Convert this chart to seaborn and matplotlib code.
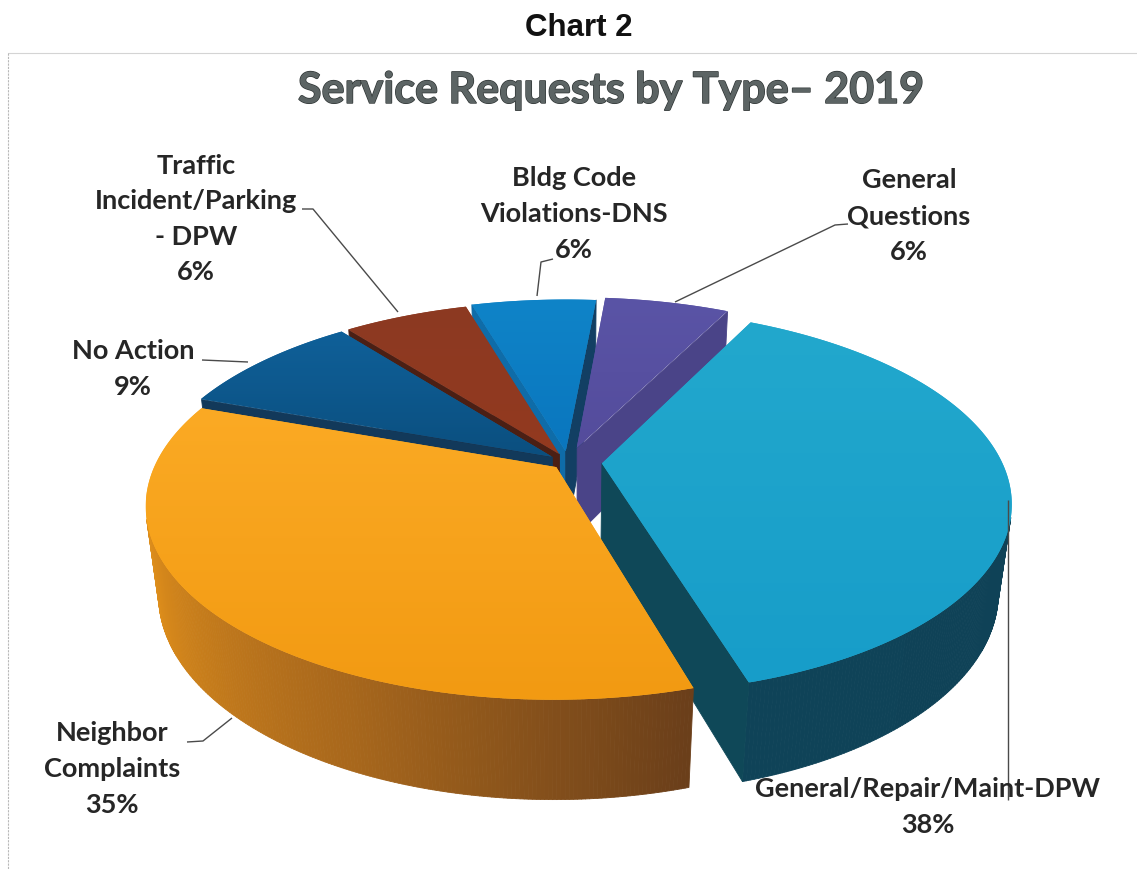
import numpy as np
import matplotlib
matplotlib.use("Agg")
import matplotlib.pyplot as plt
from matplotlib.collections import PolyCollection
from matplotlib.colors import ListedColormap
from matplotlib.patches import Polygon
import matplotlib.patheffects as pe
import seaborn as sns

# Shares of service requests, in percent, clockwise from the upper right
categories = ["General/Repair/Maint-DPW", "Neighbor Complaints", "No Action",
              "Traffic Incident/Parking - DPW", "Bldg Code Violations-DNS",
              "General Questions"]
shares = [38, 35, 9, 6, 6, 6]
label_lines = ["General/Repair/Maint-DPW\n38%", "Neighbor\nComplaints\n35%",
               "No Action\n9%", "Traffic\nIncident/Parking\n- DPW\n6%",
               "Bldg Code\nViolations-DNS\n6%", "General\nQuestions\n6%"]

# Styling of each slice, in the same order
explode = [0.085, 0.04, 0.05, 0.05, 0.06, 0.08]
top_colors = [["#22a8cd", "#179dc9"], ["#fbaa24", "#f29a12"], ["#0f6099", "#0b4f7f"],
              ["#8c3a22", "#93391f"], ["#0f84c8", "#0a76be"], ["#5a54a6", "#544c9c"]]
outer_colors = [["#0f4055", "#0f4358"], ["#6b3f1a", "#a9681c", "#d98a1b", "#f6a722"],
                ["#0d3c5c", "#0d3c5c"], ["#5e2412", "#5e2412"],
                ["#0b5f96", "#0b5f96"], ["#3f3a80", "#3f3a80"]]
# Cut faces: right-hand edge, left-hand edge
face_colors = [["#0f4858", "#0f4858"], ["#8a5418", "#8a5418"], ["#12395a", "#12395a"],
               ["#4b1f14", "#4b1f14"], ["#0f6ca8", "#123f63"], ["#4a4488", "#4a4488"]]
draw_order = [4, 5, 3, 2, 0, 1]

START_DEG = 63.2
CX, CY = 568, 462
RX, RY, DEPTH = 400, 185, 90
PERSP, PERSP_Z = 0.195, 0.03

sns.set_theme(style="white")
fig = plt.figure(figsize=(11.37, 8.69), dpi=100, facecolor="white")
ax = fig.add_axes([0, 0, 1, 1])
ax.set_xlim(0, 1137)
ax.set_ylim(869, 0)
ax.axis("off")


def project(u, v, z):
    s = 1 / (1 + PERSP * v + PERSP_Z * z)
    return CX + RX * u * s, CY - (RY * v - DEPTH * z) * s


def signed_area(quad):
    x, y = np.asarray(quad).T
    return 0.5 * np.sum(x * np.roll(y, -1) - np.roll(x, -1) * y)


edges = START_DEG - np.cumsum([0] + shares) * 3.6
zorder = 2
for i in draw_order:
    a0, a1 = np.radians(edges[i]), np.radians(edges[i + 1])
    mid = (a0 + a1) / 2
    ox, oy = explode[i] * np.cos(mid), explode[i] * np.sin(mid)
    t = np.linspace(a0, a1, 260)
    u = np.r_[ox, ox + np.cos(t), ox]
    v = np.r_[oy, oy + np.sin(t), oy]
    top = np.column_stack(project(u[:-1], v[:-1], 0))
    low = np.column_stack(project(u[:-1], v[:-1], 1))

    # Side walls, keeping only the quads that face the viewer
    wall_cmap = sns.blend_palette(outer_colors[i], n_colors=256)
    n = len(top)
    quads, colours = [], []
    for j in range(n):
        k = (j + 1) % n
        quad = [top[j], top[k], low[k], low[j]]
        if signed_area(quad) >= 0:
            continue
        quads.append(quad)
        if j == 0:
            colours.append(face_colors[i][0])
        elif j == n - 1:
            colours.append(face_colors[i][1])
        else:
            frac = (j - 1) / (n - 3)
            colours.append(wall_cmap[int(frac * 255)])
    ax.add_collection(PolyCollection(quads, facecolors=colours, edgecolors=colours,
                                     linewidths=0.6, zorder=zorder))
    zorder += 1

    # Top surface with a soft vertical gradient
    patch = Polygon(top, closed=True, facecolor=top_colors[i][0], edgecolor="none", zorder=zorder)
    ax.add_patch(patch)
    x0, y0 = top.min(axis=0)
    x1, y1 = top.max(axis=0)
    grad = np.linspace(0, 1, 128).reshape(-1, 1)
    im = ax.imshow(grad, extent=(x0, x1, y1, y0), aspect="auto", origin="upper",
                   cmap=ListedColormap(sns.blend_palette(top_colors[i], n_colors=128)),
                   zorder=zorder + 0.5, interpolation="bilinear")
    im.set_clip_path(patch)
    zorder += 1

ax.set_xlim(0, 1137)
ax.set_ylim(869, 0)

# Leader lines between labels and slices
leader_x = [[1008, 1008], [187, 203, 232], [202, 248], [302, 313, 398], [537, 541, 553], [675, 835, 848]]
leader_y = [[500, 800], [742, 741, 718], [360, 362], [209, 209, 312], [296, 262, 259], [302, 225, 224]]
for lx, ly in zip(leader_x, leader_y):
    ax.plot(lx, ly, color="#4a4a4a", lw=1.0, zorder=50, solid_capstyle="butt")

# Page rules of the scanned report
ax.plot([8, 1137], [53, 53], color="#d4d4d4", lw=0.8, zorder=1)
ax.plot([8, 8], [53, 869], color="#b8b8b8", lw=0.8, ls=(0, (2, 1)), zorder=1)

label_x = [928, 112, 133, 196, 574, 909]
label_y = [807, 769, 369, 219, 214, 216]
for text, lx, ly in zip(label_lines, label_x, label_y):
    ax.text(lx, ly, text, ha="center", va="center", ma="center", family="Lato",
            fontweight="bold", fontsize=19.5, color="#262626", linespacing=1.58, zorder=60)

ax.text(579, 28, "Chart 2", ha="center", va="center", family="Liberation Sans",
        fontweight="bold", fontsize=22.5, color="#111111")
title = ax.text(611, 90, "Service Requests by Type\u2013 2019", ha="center", va="center",
                family="Lato", fontweight="bold", fontsize=31, color="#5c6464")
title.set_path_effects([pe.withStroke(linewidth=1.0, foreground="#2f3535")])

fig.savefig("out.png", dpi=100, facecolor="white")
